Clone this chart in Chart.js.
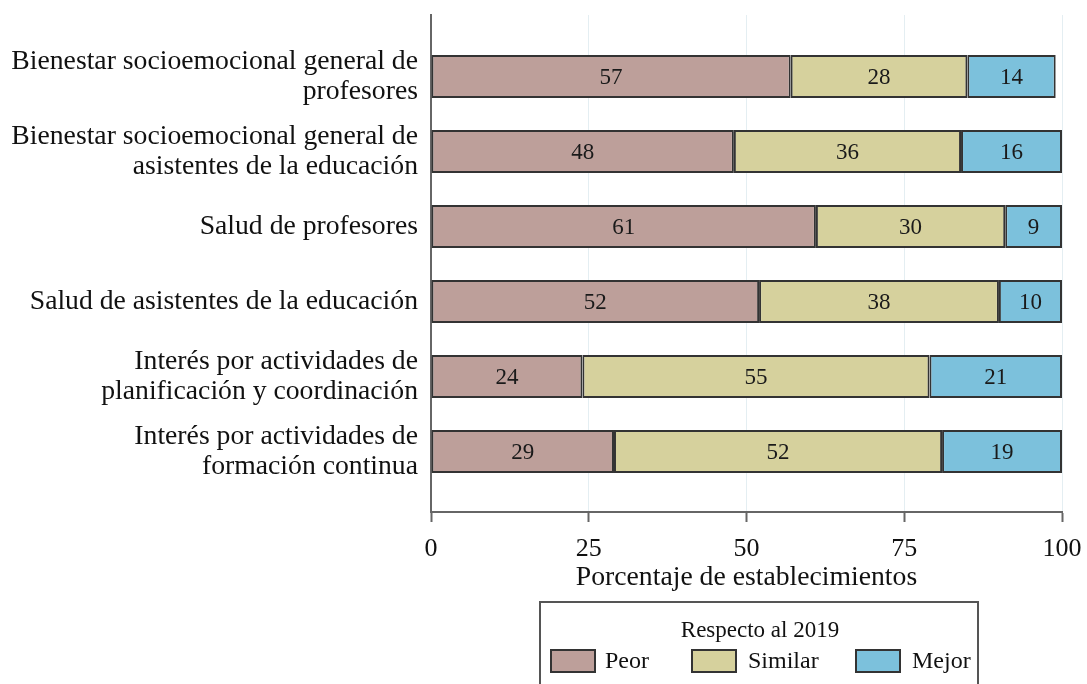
<!DOCTYPE html>
<html>
<head>
<meta charset="utf-8">
<script src="https://cdn.jsdelivr.net/npm/chart.js@4/dist/chart.umd.min.js"></script>
<style>
  html, body { margin: 0; padding: 0; background: #ffffff; }
  #wrap { width: 1087px; height: 684px; position: relative; }
</style>
</head>
<body>
<div id="wrap"><canvas id="c" width="1087" height="684"></canvas></div>
<script>
const categories = [
  ["Bienestar socioemocional general de", "profesores"],
  ["Bienestar socioemocional general de", "asistentes de la educación"],
  ["Salud de profesores"],
  ["Salud de asistentes de la educación"],
  ["Interés por actividades de", "planificación y coordinación"],
  ["Interés por actividades de", "formación continua"]
];
const peor    = [57, 48, 61, 52, 24, 29];
const similar = [28, 36, 30, 38, 55, 52];
const mejor   = [14, 16,  9, 10, 21, 19];
const seriesNames = ["Peor", "Similar", "Mejor"];
const xTicks = [0, 25, 50, 75, 100];
const legendTitle = "Respecto al 2019";
const xTitle = "Porcentaje de establecimientos";

const colors = ["#bd9f9a", "#d6d19d", "#7cc1dc"];
const serif = "'Liberation Serif', 'Times New Roman', serif";

function toPoints(arr) { return arr.map((v, i) => ({ x: v, y: i })); }

const valueLabels = {
  id: 'valueLabels',
  afterDatasetsDraw(chart) {
    const ctx = chart.ctx;
    ctx.save();
    ctx.font = "23px " + serif;
    ctx.fillStyle = "#1a1a1a";
    ctx.textAlign = "center";
    ctx.textBaseline = "middle";
    chart.data.datasets.forEach((ds, di) => {
      const meta = chart.getDatasetMeta(di);
      meta.data.forEach((el, i) => {
        const p = el.getCenterPoint();
        ctx.fillText(String(ds.data[i].x), p.x, p.y + 1);
      });
    });
    ctx.restore();
  }
};

const boxLegend = {
  id: 'boxLegend',
  afterDraw(chart) {
    const ctx = chart.ctx;
    ctx.save();
    ctx.strokeStyle = "#555";
    ctx.lineWidth = 2;
    ctx.strokeRect(540, 602, 438, 120);
    ctx.font = "23px " + serif;
    ctx.fillStyle = "#111";
    ctx.textAlign = "center";
    ctx.textBaseline = "middle";
    ctx.fillText(legendTitle, 760, 631);
    const sw = [551, 692, 856];
    const tx = [605, 748, 912];
    ctx.textAlign = "left";
    ctx.font = "24px " + serif;
    seriesNames.forEach((n, i) => {
      ctx.fillStyle = colors[i];
      ctx.fillRect(sw[i], 650, 44, 22);
      ctx.strokeStyle = "#333";
      ctx.lineWidth = 2;
      ctx.strokeRect(sw[i], 650, 44, 22);
      ctx.fillStyle = "#111";
      ctx.fillText(n, tx[i], 662);
    });
    ctx.restore();
  }
};

new Chart(document.getElementById('c'), {
  type: 'bar',
  data: {
    datasets: [peor, similar, mejor].map((arr, i) => ({
      label: seriesNames[i],
      data: toPoints(arr),
      backgroundColor: colors[i],
      borderColor: "#333",
      borderWidth: 2,
      borderSkipped: false,
      barPercentage: 0.573,
      categoryPercentage: 1
    }))
  },
  options: {
    indexAxis: 'y',
    responsive: false,
    animation: false,
    devicePixelRatio: 1,
    layout: { autoPadding: false, padding: { top: 15, right: 25, bottom: 88, left: 0 } },
    plugins: { legend: { display: false }, tooltip: { enabled: false } },
    scales: {
      x: {
        type: 'linear',
        stacked: true,
        min: 0, max: 100,
        offset: false,
        afterBuildTicks: s => { s.ticks = xTicks.map(v => ({ value: v })); },
        afterFit: s => { s.height = 84; s.paddingLeft = 0; s.paddingRight = 0; },
        grid: { color: "#e4eef2", lineWidth: 1, tickColor: "#666", tickWidth: 2, tickLength: 10, drawOnChartArea: true },
        border: { display: true, color: "#666", width: 2 },
        ticks: { color: "#111", font: { family: serif, size: 26 }, padding: 12, maxRotation: 0 },
        title: { display: true, text: xTitle, color: "#111", font: { family: serif, size: 27.7 }, padding: { top: 0, bottom: 2 } }
      },
      y: {
        type: 'linear',
        stacked: true,
        reverse: true,
        offset: false,
        min: -0.82, max: 5.807,
        afterBuildTicks: s => { s.ticks = categories.map((_, i) => ({ value: i })); },
        afterFit: s => { s.width = 431; s.paddingTop = 0; s.paddingBottom = 0; },
        grid: { display: false, drawTicks: false, offset: false },
        border: { display: true, color: "#666", width: 2 },
        ticks: {
          color: "#111",
          font: { family: serif, size: 27.7, lineHeight: 1.09 },
          padding: 13,
          callback: (v) => categories[v]
        }
      }
    }
  },
  plugins: [valueLabels, boxLegend]
});
</script>
</body>
</html>
